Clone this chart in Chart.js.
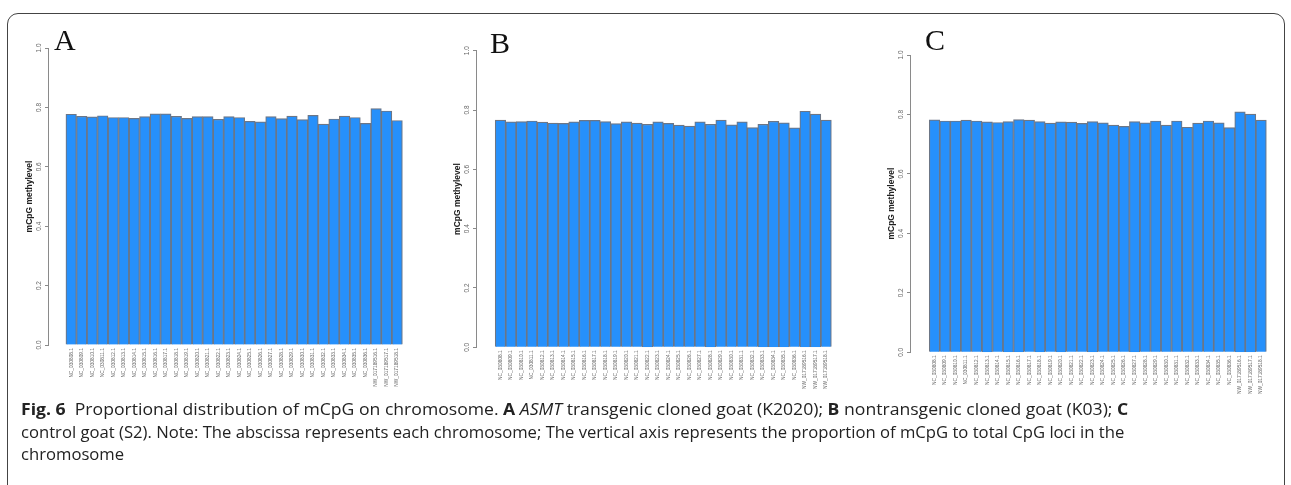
<!DOCTYPE html>
<html>
<head>
<meta charset="utf-8">
<script src="https://cdn.jsdelivr.net/npm/chart.js@4.4.0/dist/chart.umd.min.js"></script>
<style>
  body { margin: 0; background: #fff; width: 1291px; height: 485px; overflow: hidden; position: relative; }
  #frame { position: absolute; left: 7px; top: 13px; width: 1276px; height: 520px; border: 1px solid #444; border-radius: 11px; }
  canvas { position: absolute; }
  .letter { position: absolute; font-family: "Liberation Serif", "DejaVu Serif", serif; font-size: 30px; color: #111; }
  #caption { position: absolute; left: 21px; top: 398px; font-family: "Open Sans", "Noto Sans", sans-serif; font-size: 16px; line-height: 22.5px; color: #222; white-space: nowrap; }
  #caption div { transform-origin: 0 50%; }
  #caption b { font-weight: 700; }
</style>
</head>
<body>
<div id="frame"></div>
<canvas id="chartA" width="422" height="380" style="left:8px;top:20px"></canvas>
<canvas id="chartB" width="410" height="380" style="left:436px;top:20px"></canvas>
<canvas id="chartC" width="412" height="380" style="left:870px;top:20px"></canvas>
<div class="letter" style="left:54px;top:23px">A</div>
<div class="letter" style="left:490px;top:26px">B</div>
<div class="letter" style="left:925px;top:23px">C</div>
<div id="caption">
  <div style="transform:scaleX(1.10)"><b>Fig. 6</b>&nbsp; Proportional distribution of mCpG on chromosome. <b>A</b> <i>ASMT</i> transgenic cloned goat (K2020); <b>B</b> nontransgenic cloned goat (K03); <b>C</b></div>
  <div style="transform:scaleX(1.04)">control goat (S2). Note: The abscissa represents each chromosome; The vertical axis represents the proportion of mCpG to total CpG loci in the</div>
  <div style="transform:scaleX(1.04)">chromosome</div>
</div>
<script>
// chromosomes on the x axis
var chromosomes = [
  'NC_030808.1', 'NC_030809.1', 'NC_030810.1', 'NC_030811.1', 'NC_030812.1', 'NC_030813.1',
  'NC_030814.1', 'NC_030815.1', 'NC_030816.1', 'NC_030817.1', 'NC_030818.1', 'NC_030819.1',
  'NC_030820.1', 'NC_030821.1', 'NC_030822.1', 'NC_030823.1', 'NC_030824.1', 'NC_030825.1',
  'NC_030826.1', 'NC_030827.1', 'NC_030828.1', 'NC_030829.1', 'NC_030830.1', 'NC_030831.1',
  'NC_030832.1', 'NC_030833.1', 'NC_030834.1', 'NC_030835.1', 'NC_030836.1',
  'NW_017189516.1', 'NW_017189517.1', 'NW_017189518.1'
];

// A: ASMT transgenic cloned goat (K2020)
var valoresA = [0.777, 0.770, 0.768, 0.772, 0.766, 0.766, 0.763, 0.769, 0.778, 0.778, 0.770, 0.763,
  0.769, 0.769, 0.760, 0.769, 0.766, 0.753, 0.751, 0.769, 0.762, 0.771, 0.759, 0.773,
  0.744, 0.761, 0.771, 0.766, 0.746, 0.796, 0.788, 0.756];
// B: nontransgenic cloned goat (K03)
var valoresB = [0.766, 0.760, 0.761, 0.763, 0.759, 0.756, 0.755, 0.760, 0.765, 0.765, 0.761, 0.754,
  0.760, 0.756, 0.752, 0.760, 0.755, 0.749, 0.746, 0.760, 0.752, 0.766, 0.750, 0.760,
  0.741, 0.752, 0.762, 0.757, 0.740, 0.796, 0.786, 0.766];
// C: control goat (S2)
var valoresC = [0.782, 0.778, 0.778, 0.781, 0.778, 0.775, 0.773, 0.776, 0.783, 0.781, 0.776, 0.771,
  0.775, 0.774, 0.770, 0.776, 0.772, 0.764, 0.760, 0.776, 0.772, 0.778, 0.764, 0.778,
  0.757, 0.771, 0.778, 0.772, 0.756, 0.809, 0.801, 0.781];

var yTicks = [0.0, 0.2, 0.4, 0.6, 0.8, 1.0];
var tituloY = 'mCpG methylevel';

// g = chart area inside each canvas (px) + where the x range starts
function desenhar(id, valores, g) {
  var pontos = [];
  for (let i = 0; i < valores.length; i++) {
    pontos.push({ x: i, y: valores[i] });
  }
  var canvas = document.getElementById(id);
  return new Chart(canvas, {
    type: 'bar',
    data: {
      datasets: [{
        data: pontos,
        backgroundColor: '#2690fb',
        borderColor: '#6c7686',
        borderWidth: 1.2,
        barPercentage: 1,
        categoryPercentage: 1
      }]
    },
    options: {
      responsive: false,
      animation: false,
      devicePixelRatio: 1,
      layout: { padding: { left: 0, top: g.top, right: canvas.width - g.right, bottom: 0 } },
      plugins: { legend: { display: false }, tooltip: { enabled: false } },
      scales: {
        x: {
          type: 'linear',
          min: g.xmin,
          max: valores.length - 0.5,
          afterBuildTicks: function (s) { s.ticks = chromosomes.map((c, i) => ({ value: i })); },
          border: { display: false },
          grid: { display: false, drawTicks: false },
          ticks: {
            autoSkip: false,
            minRotation: 90,
            maxRotation: 90,
            padding: 3,
            color: '#666',
            font: { family: 'Liberation Sans', size: 4.8 },
            callback: function (v, i) { return chromosomes[i]; }
          },
          afterFit: function (s) { s.height = canvas.height - g.bottom; }
        },
        y: {
          min: 0,
          max: 1,
          afterBuildTicks: function (s) { s.ticks = yTicks.map(v => ({ value: v })); },
          border: { display: true, color: '#8a8a8a', width: 1 },
          grid: { drawOnChartArea: false, drawTicks: true, tickLength: 3, color: '#8a8a8a' },
          ticks: {
            minRotation: 90,
            maxRotation: 90,
            crossAlign: 'center',
            padding: 1,
            color: '#666',
            font: { family: 'Liberation Sans', size: 6.5 },
            callback: function (v) { return v.toFixed(1); }
          },
          title: {
            display: true,
            text: tituloY,
            color: '#222',
            padding: { top: 17, bottom: 0 },
            font: { family: 'Liberation Sans', size: 8.5, weight: 'bold' }
          },
          afterFit: function (s) { s.width = g.left; }
        }
      }
    }
  });
}

desenhar('chartA', valoresA, { left: 40, right: 400, top: 28, bottom: 325, xmin: -1.67 });
desenhar('chartB', valoresB, { left: 40, right: 401, top: 30.7, bottom: 327.3, xmin: -1.79 });
desenhar('chartC', valoresC, { left: 40, right: 402, top: 35, bottom: 332.3, xmin: -1.79 });
</script>
</body>
</html>
